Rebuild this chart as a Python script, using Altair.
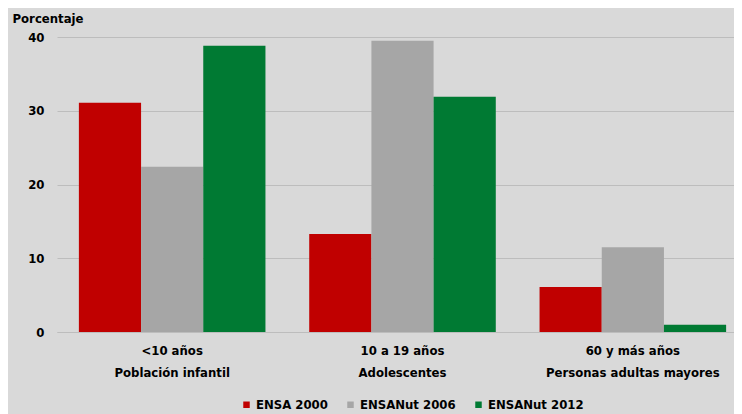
import altair as alt
import pandas as pd

groups = ["<10 años|Población infantil", "10 a 19 años|Adolescentes", "60 y más años|Personas adultas mayores"]
series = ["ENSA 2000", "ENSANut 2006", "ENSANut 2012"]
ensa2000 = [31.1, 13.3, 6.1]
ensanut2006 = [22.4, 39.5, 11.5]
ensanut2012 = [38.8, 31.9, 1.0]
colors = ["#c00000", "#a6a6a6", "#007a33"]

rows = []
for i, g in enumerate(groups):
    for s, vals in zip(series, [ensa2000, ensanut2006, ensanut2012]):
        rows.append({"grupo": g, "serie": s, "valor": vals[i]})
df = pd.DataFrame(rows)

FONT = "Liberation Sans Narrow, DejaVu Sans Condensed, Liberation Sans, sans-serif"

chart = alt.Chart(df).mark_bar().encode(
    x=alt.X("grupo:N", sort=groups, title=None,
            scale=alt.Scale(range=[0, 691], paddingInner=0.19, paddingOuter=0.095),
            axis=alt.Axis(labelExpr="split(datum.label, '|')", labelAngle=0,
                          labelFont=FONT, labelFontWeight="bold", labelFontSize=13,
                          labelColor="#000000", labelLineHeight=22, labelPadding=12,
                          ticks=False, domainColor="#bdbdbd", domainWidth=1, labelLimit=300)),
    xOffset=alt.XOffset("serie:N", sort=series, scale=alt.Scale(paddingInner=0, paddingOuter=0)),
    y=alt.Y("valor:Q", scale=alt.Scale(domain=[0, 40]),
            axis=alt.Axis(values=[0, 10, 20, 30, 40], title="Porcentaje", titleAngle=0,
                          titleAlign="left", titleBaseline="alphabetic", titleX=-45, titleY=-15,
                          titleFont=FONT, titleFontSize=13, titleFontWeight="bold", titleColor="#000000",
                          labelFont=FONT, labelFontSize=13, labelFontWeight="bold", labelColor="#000000",
                          labelPadding=13, ticks=False, domain=False,
                          gridColor="#bdbdbd", gridWidth=1)),
    color=alt.Color("serie:N", sort=series, scale=alt.Scale(domain=series, range=colors),
                    legend=alt.Legend(title=None, orient="none", direction="horizontal",
                                      legendX=183, legendY=361, symbolType="square", symbolSize=42,
                                      symbolStrokeWidth=0,
                                      labelFont=FONT, labelFontSize=13, labelFontWeight="bold",
                                      labelColor="#000000", columnPadding=16, labelOffset=3)),
).properties(
    width=677, height=295,
    autosize=alt.AutoSizeParams(type="none"),
    padding={"left": 49, "top": 29, "right": 0, "bottom": 82},
    background="#d9d9d9",
).configure_view(stroke=None)

chart.save("out.html", embed_options={"renderer": "svg", "actions": False})
